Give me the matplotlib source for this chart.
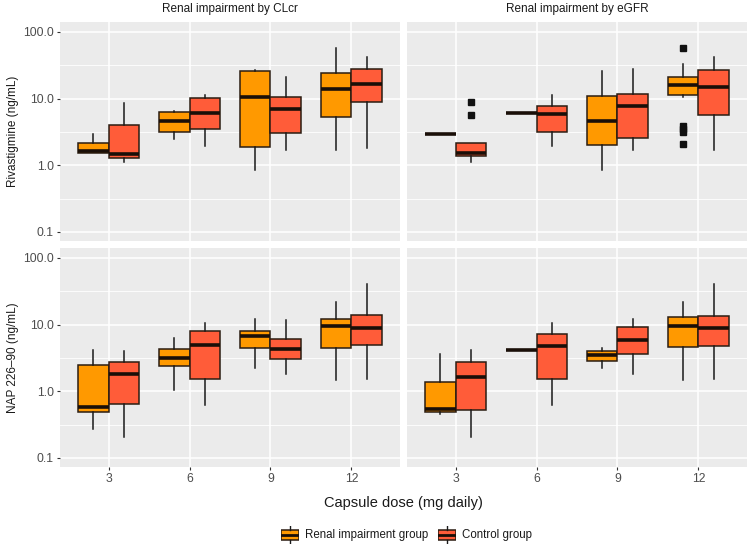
import matplotlib
matplotlib.use("Agg")
import matplotlib.pyplot as plt
from matplotlib.patches import Rectangle
from matplotlib.lines import Line2D
import numpy as np

plt.rcParams['font.family'] = ['Liberation Sans', 'DejaVu Sans']

doses = ["3", "6", "9", "12"]
panels_cols = ["Renal impairment by CLcr", "Renal impairment by eGFR"]
rows = ["Rivastigmine (ng/mL)", "NAP 226\u201390 (ng/mL)"]
groups = ["Renal impairment group", "Control group"]
colors = ["#FF9900", "#FF5C39"]

# stats per dose: (whislo, q1, med, q3, whishi, fliers)
riva_clcr_renal = [(1.55, 1.55, 1.64, 2.19, 2.9, []),
                   (2.5, 3.2, 4.68, 6.3, 6.6, []),
                   (0.85, 1.86, 10.4, 25.7, 27.2, []),
                   (1.7, 5.38, 14.1, 24.6, 58.2, [])]
riva_clcr_ctrl = [(1.10, 1.30, 1.48, 4.08, 8.7, []),
                  (1.95, 3.47, 6.17, 10.1, 11.5, []),
                  (1.7, 3.09, 6.9, 10.6, 21.4, []),
                  (1.82, 9.0, 16.4, 28.2, 42.2, [])]
riva_egfr_renal = [(2.95, 2.95, 2.95, 2.95, 2.95, []),
                   (6.1, 6.1, 6.1, 6.1, 6.1, []),
                   (0.85, 2.0, 4.68, 11.0, 25.7, []),
                   (10.7, 11.3, 16.0, 21.4, 32.7, [58.2, 3.9, 3.5, 3.2, 2.06])]
riva_egfr_ctrl = [(1.10, 1.38, 1.51, 2.19, 2.19, [8.9, 5.69]),
                  (1.95, 3.2, 5.96, 7.76, 11.5, []),
                  (1.7, 2.54, 7.76, 11.6, 27.5, []),
                  (1.7, 5.75, 14.95, 27.2, 42.2, [])]
nap_clcr_renal = [(0.275, 0.483, 0.58, 2.46, 4.14, []),
                  (1.06, 2.38, 3.1, 4.24, 6.27, []),
                  (2.27, 4.38, 6.7, 7.9, 12.2, []),
                  (1.50, 4.43, 9.6, 12.2, 22.0, [])]
nap_clcr_ctrl = [(0.206, 0.653, 1.80, 2.76, 4.04, []),
                 (0.63, 1.53, 4.9, 7.9, 10.6, []),
                 (1.80, 3.0, 4.24, 6.05, 11.6, []),
                 (1.55, 4.97, 8.77, 13.7, 40.0, [])]
nap_egfr_renal = [(0.45, 0.49, 0.536, 1.40, 3.6, []),
                  (4.17, 4.17, 4.17, 4.17, 4.17, []),
                  (2.27, 2.86, 3.48, 4.04, 4.38, []),
                  (1.50, 4.54, 9.6, 13.0, 22.0, [])]
nap_egfr_ctrl = [(0.206, 0.518, 1.64, 2.76, 4.14, []),
                 (0.63, 1.53, 4.7, 7.27, 10.6, []),
                 (1.80, 3.64, 5.9, 9.27, 12.2, []),
                 (1.55, 4.75, 8.95, 13.6, 40.0, [])]

data = [[(riva_clcr_renal, riva_clcr_ctrl), (riva_egfr_renal, riva_egfr_ctrl)],
        [(nap_clcr_renal, nap_clcr_ctrl), (nap_egfr_renal, nap_egfr_ctrl)]]

W, H = 750, 547
fig = plt.figure(figsize=(7.5, 5.47), dpi=100)

def fx(px): return px / W
def fy(py): return 1 - py / H

xlefts = [60, 407]
xw = 340
ytops = [22, 248]
yh = 219
edge = "#2b1d12"
bg = "#EBEBEB"

def to_stats(lst):
    out = []
    for (lo, q1, med, q3, hi, fl) in lst:
        out.append(dict(whislo=lo, q1=q1, med=med, q3=q3, whishi=hi, fliers=fl))
    return out

for r in range(2):
    for c in range(2):
        ax = fig.add_axes([fx(xlefts[c]), fy(ytops[r] + yh), fx(xw), yh / H])
        ax.set_facecolor(bg)
        ax.set_yscale('log')
        ax.set_ylim(0.073, 141)
        ax.set_xlim(0.4, 4.6)
        pos = np.arange(1, len(doses) + 1)
        # grid
        for m in [0.316, 3.16, 31.6]:
            ax.axhline(m, color='white', lw=0.6, zorder=0)
        for m in [0.1, 1, 10, 100]:
            ax.axhline(m, color='white', lw=1.1, zorder=0)
        for p in pos:
            ax.axvline(p, color='white', lw=1.1, zorder=0)
        for g in range(2):
            stats = to_stats(data[r][c][g])
            offs = -0.1875 if g == 0 else 0.1875
            ax.bxp(stats, positions=pos + offs, widths=0.375, patch_artist=True,
                   showfliers=True, manage_ticks=False,
                   boxprops=dict(facecolor=colors[g], edgecolor=edge, linewidth=1.1),
                   medianprops=dict(color="#1a0f08", linewidth=2.6),
                   whiskerprops=dict(color="#1a1a1a", linewidth=1.1),
                   capprops=dict(linewidth=0),
                   flierprops=dict(marker='s', markersize=4, markerfacecolor='#111111',
                                   markeredgecolor='#111111', linestyle='none'))
        for s in ax.spines.values():
            s.set_visible(False)
        ax.minorticks_off()
        ax.set_yticks([0.1, 1, 10, 100])
        ax.set_xticks(pos)
        ax.tick_params(axis='both', length=2.5, width=0.8, color='#333333',
                       labelsize=8.8, labelcolor='#4d4d4d', pad=2)
        if c == 0:
            ax.set_yticklabels(["0.1", "1.0", "10.0", "100.0"])
            ax.set_ylabel(rows[r], fontsize=8.5, color='#1a1a1a', labelpad=3)
        else:
            ax.tick_params(axis='y', left=False, labelleft=False)
        if r == 1:
            ax.set_xticklabels(doses)
        else:
            ax.tick_params(axis='x', bottom=False, labelbottom=False)
            ax.set_title(panels_cols[c], fontsize=8.5, color='#1a1a1a', pad=7)

fig.text(fx(403), fy(503), "Capsule dose (mg daily)", fontsize=10.5,
         ha='center', va='center', color='#1a1a1a')

# legend
key_x = [281, 438]
text_x = [305, 462]
ky = 535
for g in range(2):
    kax = fig.add_axes([fx(key_x[g]), fy(ky + 9), fx(18), 18 / H])
    kax.set_xlim(0, 1)
    kax.set_ylim(0, 1)
    kax.axis('off')
    kax.add_patch(Rectangle((0.0, 0.22), 1.0, 0.56, facecolor=colors[g], edgecolor=edge, lw=1.1))
    kax.add_line(Line2D([0.5, 0.5], [0.0, 0.22], color='#1a1a1a', lw=1.0))
    kax.add_line(Line2D([0.5, 0.5], [0.78, 1.0], color='#1a1a1a', lw=1.0))
    kax.add_line(Line2D([0.0, 1.0], [0.5, 0.5], color='#1a0f08', lw=2.0))
    fig.text(fx(text_x[g]), fy(ky), groups[g], fontsize=8.3, ha='left', va='center',
             color='#1a1a1a')

fig.savefig("out.png", dpi=100, facecolor='white')
